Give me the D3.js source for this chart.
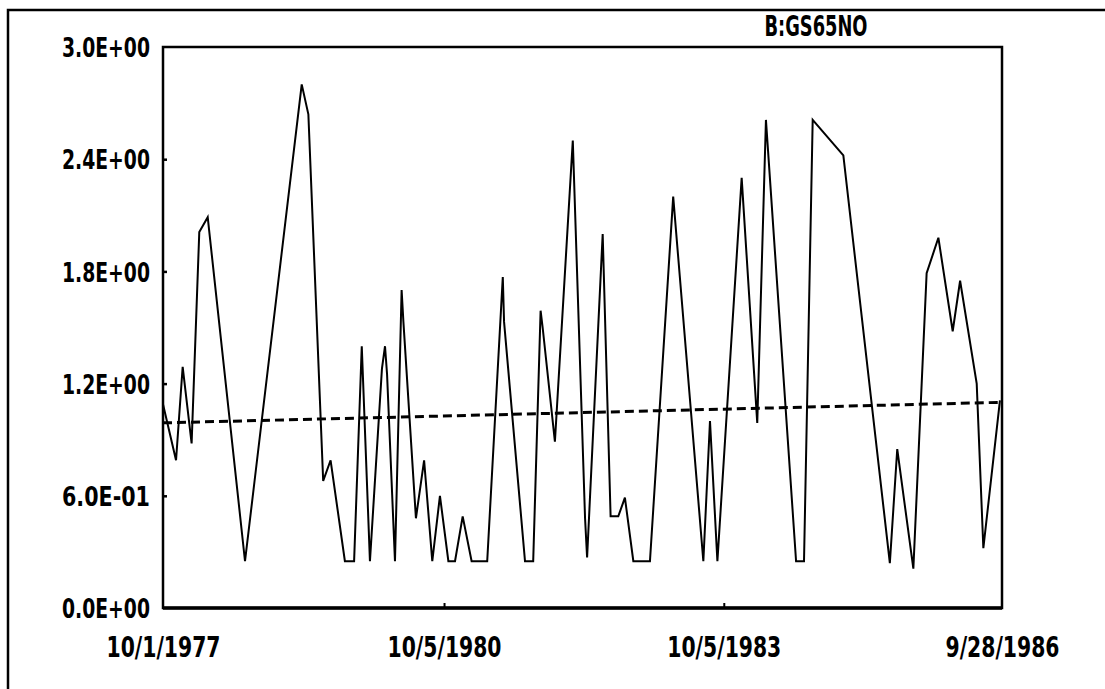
<!DOCTYPE html>
<html><head><meta charset="utf-8">
<script src="https://cdn.jsdelivr.net/npm/d3@7"></script>
<style>
html,body{margin:0;padding:0;background:#fff;}
text{font-family:"Liberation Sans Narrow","DejaVu Sans Condensed","Arial Narrow",sans-serif;font-weight:bold;fill:#000;}
</style></head>
<body><svg id="c" width="1105" height="689"></svg>
<script>
const title = "B:GS65NO";
const dates = ["1977-10-01","1977-11-21","1977-12-17","1978-01-21","1978-02-20","1978-03-25","1978-08-18",
"1979-03-28","1979-04-23","1979-06-20","1979-07-19","1979-09-13","1979-10-19","1979-11-18","1979-12-20",
"1980-02-05","1980-02-17","1980-02-25","1980-03-27","1980-04-22","1980-04-29","1980-06-17","1980-07-19",
"1980-08-20","1980-09-19","1980-10-22","1980-11-17","1980-12-17","1981-01-21","1981-03-23","1981-05-23",
"1981-05-28","1981-08-18","1981-09-19","1981-10-18","1981-10-26","1981-12-13","1982-02-21","1982-04-10",
"1982-04-18","1982-06-18","1982-07-19","1982-08-18","1982-09-13","1982-10-16","1982-12-20","1983-03-21",
"1983-07-17","1983-08-12","1983-09-10","1983-12-14","1984-02-13","1984-03-18","1984-07-14","1984-08-14",
"1984-09-17","1985-01-15","1985-07-16","1985-08-14","1985-10-16","1985-12-07","1986-01-22","1986-03-19",
"1986-04-17","1986-06-21","1986-07-17","1986-09-20"];
const values = [1.09,0.79,1.29,0.88,2.01,2.09,0.25,
2.80,2.64,0.68,0.79,0.25,0.25,1.40,0.25,
1.28,1.40,1.25,0.25,1.70,1.53,0.48,0.79,
0.25,0.60,0.25,0.25,0.49,0.25,0.25,1.77,
1.53,0.25,0.25,1.59,1.50,0.89,2.50,0.48,
0.27,2.00,0.49,0.49,0.59,0.25,0.25,2.20,
0.25,1.00,0.25,2.30,0.99,2.61,0.25,0.25,
2.61,2.42,0.24,0.85,0.21,1.79,1.98,1.48,
1.75,1.20,0.32,1.11];
const trendDates = ["1977-10-01","1986-09-28"];
const trendValues = [0.99,1.10];
const yTicks = [0,0.6,1.2,1.8,2.4,3.0];
const yTickLabels = ["0.0E+00","6.0E-01","1.2E+00","1.8E+00","2.4E+00","3.0E+00"];
const xTickDates = ["1977-10-01","1980-10-05","1983-10-05","1986-09-28"];
const xTickLabels = ["10/1/1977","10/5/1980","10/5/1983","9/28/1986"];

const svg = d3.select("#c");
const L=163,R=1002,T=47,B=608;
const parse = d3.timeParse("%Y-%m-%d");
const x = d3.scaleTime().domain([parse(xTickDates[0]), parse(xTickDates[3])]).range([L,R]);
const y = d3.scaleLinear().domain([0,3]).range([B,T]);

// outer frame (top and left only)
svg.append("path").attr("d","M8,689V10H1105").attr("fill","none").attr("stroke","#000").attr("stroke-width",2.5);

// plot frame
svg.append("rect").attr("x",L).attr("y",T).attr("width",R-L).attr("height",B-T)
  .attr("fill","none").attr("stroke","#000").attr("stroke-width",2.5);
svg.append("line").attr("x1",L).attr("x2",R).attr("y1",B).attr("y2",B).attr("stroke","#000").attr("stroke-width",3.5);

// y axis
const yAxis = d3.axisLeft(y).tickValues(yTicks).tickFormat((d,i)=>yTickLabels[i]).tickSize(-4).tickPadding(13);
const gy = svg.append("g").attr("transform",`translate(${L},0)`).call(yAxis);
gy.select(".domain").remove();
gy.selectAll(".tick line").attr("stroke","#000").attr("stroke-width",2.5);
gy.selectAll(".tick text").attr("font-size",27).attr("dy","0.36em")
  .attr("textLength",88).attr("lengthAdjust","spacingAndGlyphs")
  .style("font-family",'"Liberation Sans Narrow","DejaVu Sans Condensed",sans-serif').style("font-weight","bold");
gy.selectAll(".tick").filter((d)=>d===0||d===3).select("line").remove();

// x axis
const xAxis = d3.axisBottom(x).tickValues(xTickDates.map(parse)).tickFormat((d,i)=>xTickLabels[i]).tickSize(-5).tickPadding(29);
const gx = svg.append("g").attr("transform",`translate(0,${B})`).call(xAxis);
gx.select(".domain").remove();
gx.selectAll(".tick line").attr("stroke","#000").attr("stroke-width",2);
gx.selectAll(".tick text").attr("font-size",28).attr("dy","0.71em")
  .attr("textLength",114).attr("lengthAdjust","spacingAndGlyphs")
  .style("font-family",'"Liberation Sans Narrow","DejaVu Sans Condensed",sans-serif').style("font-weight","bold");
gx.selectAll(".tick").filter((d,i)=>i===0||i===3).select("line").remove();

// title
svg.append("text").attr("x",816).attr("y",36).attr("text-anchor","middle").attr("font-size",28)
  .attr("textLength",103).attr("lengthAdjust","spacingAndGlyphs").text(title);

// trend dashed line
const tline = d3.line().x((d,i)=>x(parse(trendDates[i]))).y((d)=>y(d));
svg.append("path").attr("d",tline(trendValues)).attr("fill","none").attr("stroke","#000")
  .attr("stroke-width",3).attr("stroke-dasharray","9,5");

// data line
const line = d3.line().x((d,i)=>x(parse(dates[i]))).y(d=>y(d));
svg.append("path").attr("d",line(values)).attr("fill","none").attr("stroke","#000")
  .attr("stroke-width",2).attr("stroke-linejoin","miter");
</script></body></html>
